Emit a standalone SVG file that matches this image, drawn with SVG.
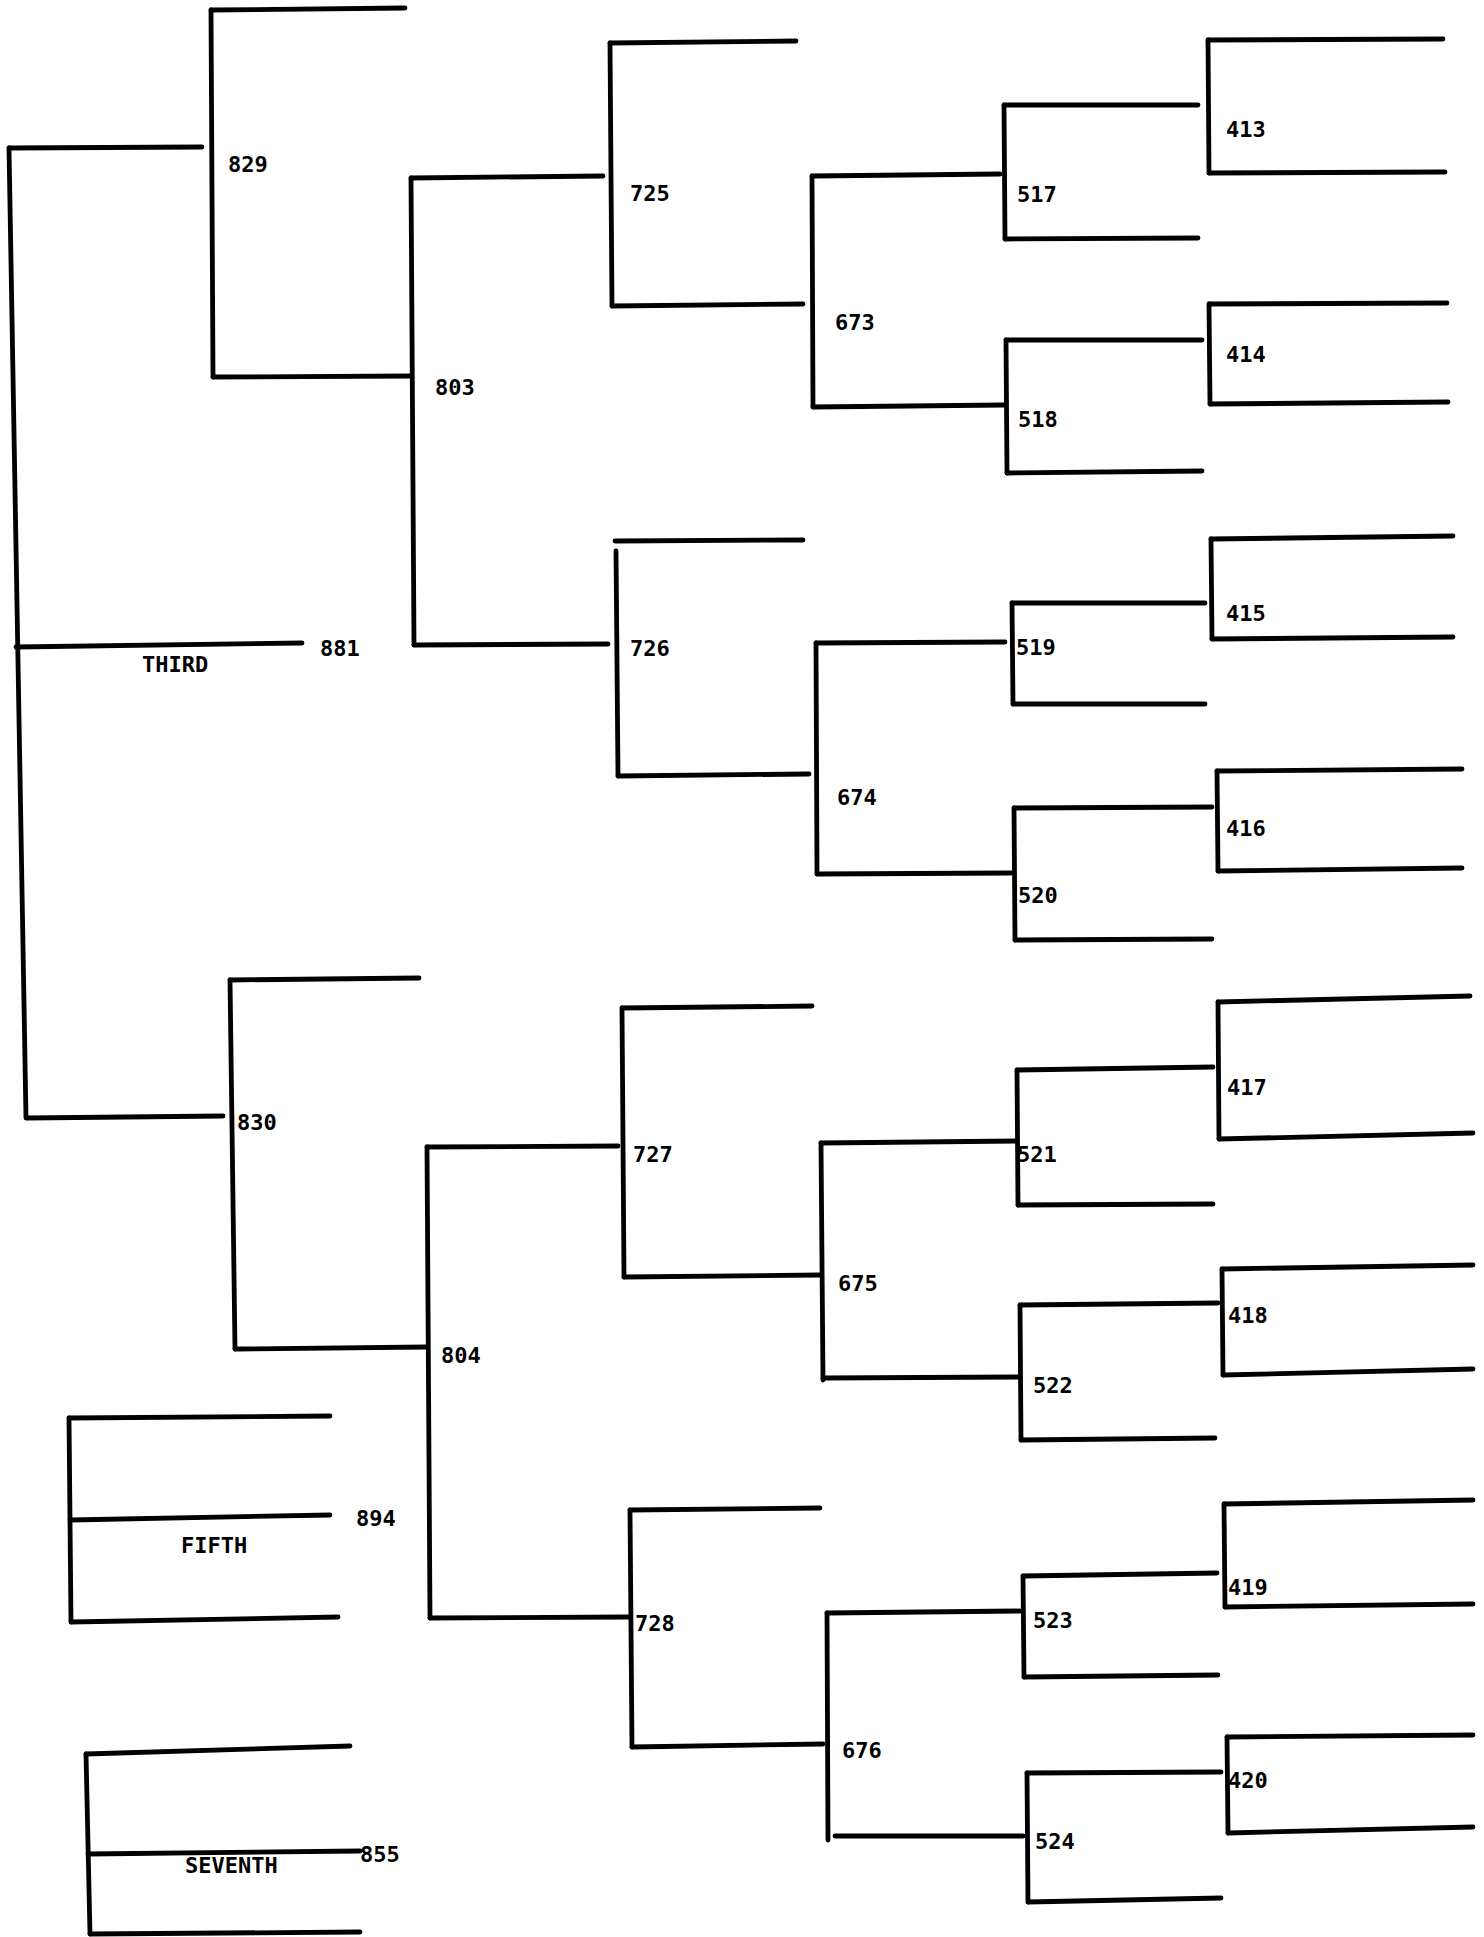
<svg xmlns="http://www.w3.org/2000/svg" width="1484" height="1937" viewBox="0 0 1484 1937">
<style>
.ln{stroke:#000;stroke-width:4.8;fill:none;stroke-linecap:round;stroke-linejoin:round}
.lb{font-family:"DejaVu Sans Mono","Liberation Mono",monospace;font-size:22px;font-weight:bold;fill:#000}
</style>
<rect width="1484" height="1937" fill="#fff"/>
<g id="connectors" class="ln">
<path d="M9,148 L202,147"/>
<path d="M16,647 L302,643"/>
<path d="M27,1118 L223,1116"/>
<path d="M211,10 L405,8"/>
<path d="M213,377 L411,376"/>
<path d="M411,178 L603,176"/>
<path d="M414,645 L608,644"/>
<path d="M610,43 L796,41"/>
<path d="M612,306 L803,304"/>
<path d="M812,176 L1000,174"/>
<path d="M813,407 L1004,405"/>
<path d="M1004,105 L1198,105"/>
<path d="M1005,239 L1198,238"/>
<path d="M1006,340 L1202,340"/>
<path d="M1007,473 L1202,471"/>
<path d="M1208,40 L1443,39"/>
<path d="M1209,173 L1445,172"/>
<path d="M1209,304 L1447,303"/>
<path d="M1210,404 L1448,402"/>
<path d="M615,541 L803,540"/>
<path d="M618,776 L809,774"/>
<path d="M816,643 L1005,642"/>
<path d="M817,874 L1011,873"/>
<path d="M1012,603 L1205,603"/>
<path d="M1013,704 L1205,704"/>
<path d="M1014,808 L1212,807"/>
<path d="M1015,940 L1212,939"/>
<path d="M1211,539 L1453,536"/>
<path d="M1212,639 L1453,637"/>
<path d="M1217,771 L1462,769"/>
<path d="M1218,871 L1462,868"/>
<path d="M230,980 L419,978"/>
<path d="M235,1349 L427,1347"/>
<path d="M427,1147 L618,1146"/>
<path d="M430,1618 L628,1617"/>
<path d="M622,1008 L812,1006"/>
<path d="M624,1277 L820,1275"/>
<path d="M821,1143 L1017,1141"/>
<path d="M823,1378 L1018,1377"/>
<path d="M1017,1070 L1213,1067"/>
<path d="M1018,1205 L1213,1204"/>
<path d="M1020,1305 L1218,1303"/>
<path d="M1021,1440 L1215,1438"/>
<path d="M1218,1002 L1470,996"/>
<path d="M1219,1139 L1473,1133"/>
<path d="M1222,1269 L1473,1265"/>
<path d="M1223,1375 L1473,1369"/>
<path d="M630,1510 L820,1508"/>
<path d="M632,1747 L823,1744"/>
<path d="M827,1613 L1020,1611"/>
<path d="M835,1836 L1023,1836"/>
<path d="M1023,1576 L1217,1573"/>
<path d="M1024,1677 L1218,1675"/>
<path d="M1027,1773 L1221,1772"/>
<path d="M1028,1902 L1221,1898"/>
<path d="M1224,1504 L1473,1500"/>
<path d="M1225,1607 L1473,1604"/>
<path d="M1227,1737 L1473,1735"/>
<path d="M1228,1833 L1473,1827"/>
<path d="M69,1418 L330,1416"/>
<path d="M70,1520 L330,1515"/>
<path d="M71,1622 L338,1617"/>
<path d="M86,1754 L350,1746"/>
<path d="M88,1854 L360,1851"/>
<path d="M90,1934 L360,1932"/>
</g>
<g id="root"><path class="ln" d="M9,148 L26,1118"/><text class="lb" x="320" y="656">881</text><text class="lb" x="142" y="672">THIRD</text></g>
<g id="n829"><path class="ln" d="M211,10 L213,377"/><text class="lb" x="228" y="172">829</text></g>
<g id="n803"><path class="ln" d="M411,178 L414,645"/><text class="lb" x="435" y="395">803</text></g>
<g id="n725"><path class="ln" d="M610,43 L612,306"/><text class="lb" x="630" y="201">725</text></g>
<g id="n673"><path class="ln" d="M812,176 L813,407"/><text class="lb" x="835" y="330">673</text></g>
<g id="n517"><path class="ln" d="M1004,105 L1005,239"/><text class="lb" x="1017" y="202">517</text></g>
<g id="n518"><path class="ln" d="M1006,340 L1007,473"/><text class="lb" x="1018" y="427">518</text></g>
<g id="n413"><path class="ln" d="M1208,40 L1209,173"/><text class="lb" x="1226" y="137">413</text></g>
<g id="n414"><path class="ln" d="M1209,304 L1210,404"/><text class="lb" x="1226" y="362">414</text></g>
<g id="n726"><path class="ln" d="M616,551 L618,776"/><text class="lb" x="630" y="656">726</text></g>
<g id="n674"><path class="ln" d="M816,643 L817,874"/><text class="lb" x="837" y="805">674</text></g>
<g id="n519"><path class="ln" d="M1012,603 L1013,704"/><text class="lb" x="1016" y="655">519</text></g>
<g id="n520"><path class="ln" d="M1014,808 L1015,940"/><text class="lb" x="1018" y="903">520</text></g>
<g id="n415"><path class="ln" d="M1211,539 L1212,639"/><text class="lb" x="1226" y="621">415</text></g>
<g id="n416"><path class="ln" d="M1217,771 L1218,871"/><text class="lb" x="1226" y="836">416</text></g>
<g id="n830"><path class="ln" d="M230,980 L235,1349"/><text class="lb" x="237" y="1130">830</text></g>
<g id="n804"><path class="ln" d="M427,1147 L430,1618"/><text class="lb" x="441" y="1363">804</text></g>
<g id="n727"><path class="ln" d="M622,1008 L624,1277"/><text class="lb" x="633" y="1162">727</text></g>
<g id="n675"><path class="ln" d="M821,1143 L823,1380"/><text class="lb" x="838" y="1291">675</text></g>
<g id="n521"><path class="ln" d="M1017,1070 L1018,1205"/><text class="lb" x="1017" y="1162">521</text></g>
<g id="n522"><path class="ln" d="M1020,1305 L1021,1440"/><text class="lb" x="1033" y="1393">522</text></g>
<g id="n417"><path class="ln" d="M1218,1002 L1219,1139"/><text class="lb" x="1227" y="1095">417</text></g>
<g id="n418"><path class="ln" d="M1222,1269 L1223,1375"/><text class="lb" x="1228" y="1323">418</text></g>
<g id="n728"><path class="ln" d="M630,1510 L632,1747"/><text class="lb" x="635" y="1631">728</text></g>
<g id="n676"><path class="ln" d="M827,1613 L828,1840"/><text class="lb" x="842" y="1758">676</text></g>
<g id="n523"><path class="ln" d="M1023,1576 L1024,1677"/><text class="lb" x="1033" y="1628">523</text></g>
<g id="n524"><path class="ln" d="M1027,1773 L1028,1902"/><text class="lb" x="1035" y="1849">524</text></g>
<g id="n419"><path class="ln" d="M1224,1504 L1225,1607"/><text class="lb" x="1228" y="1595">419</text></g>
<g id="n420"><path class="ln" d="M1227,1737 L1228,1833"/><text class="lb" x="1228" y="1788">420</text></g>
<g id="fifth"><path class="ln" d="M69,1418 L71,1622"/><text class="lb" x="181" y="1553">FIFTH</text><text class="lb" x="356" y="1526">894</text></g>
<g id="seventh"><path class="ln" d="M86,1754 L90,1934"/><text class="lb" x="185" y="1873">SEVENTH</text><text class="lb" x="360" y="1862">855</text></g>
</svg>
